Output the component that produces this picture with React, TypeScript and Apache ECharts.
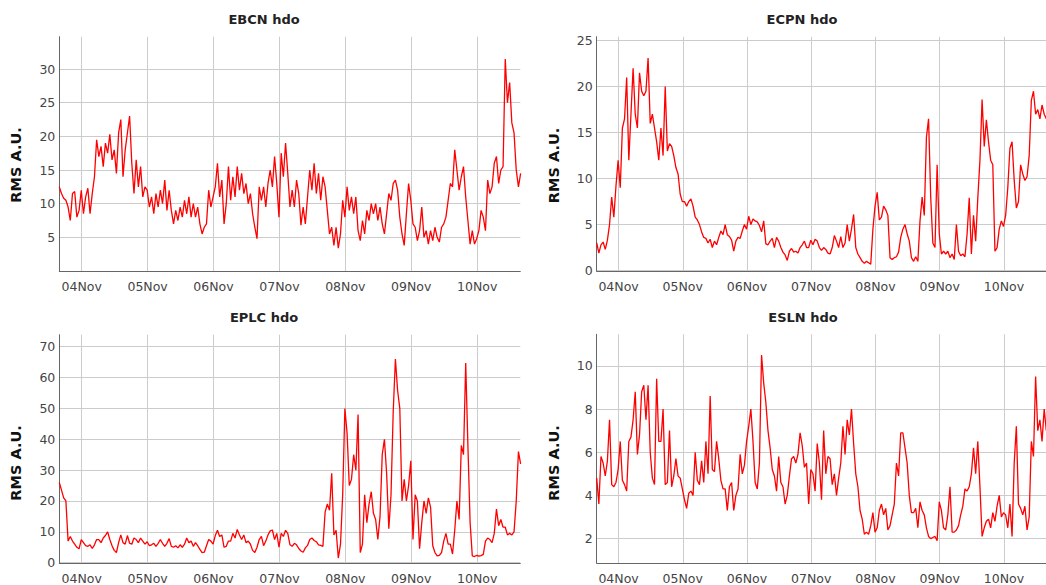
import React, { useEffect, useRef } from "react";
import * as echarts from "echarts";

// sampling: one value every 1/30 day starting 03Nov ~15:50 (day-of-month units)
const START_DAY = 3.66;
const STEP_DAY = 1 / 30;
const X_MIN = 3.66;
const X_MAX = 10.655;
const dayTicks = [4, 5, 6, 7, 8, 9, 10];

const ebcn = [
  12.5, 11.5, 10.8, 10.5, 9.5, 7.5, 11.5, 11.8, 8, 9,
  12, 8.5, 11, 12.3, 8.5, 11.5, 14, 19.5, 17, 18.5, 15.5, 19, 17.5, 20.3, 16.5, 18, 14.5, 20.5, 22.5, 14, 18, 20.5, 23, 16, 11.5, 16.5, 12.5, 15.5, 11, 12.5,
  12, 9.5, 11, 8.5, 11.5, 9.5, 12, 10, 13.5, 9, 12, 9, 7, 9, 7.5, 9.5, 8, 10.5, 8.5, 11, 8, 10, 8, 9.5, 7, 5.5, 6.5, 7, 12, 9.5,
  11, 12.5, 16, 11, 13.5, 7, 10, 15.5, 10.5, 14, 11, 15.5, 12, 14.5, 11.5, 13, 10, 11.5, 8.5, 6.5, 4.8, 12.5, 10.5, 12.5, 9.5, 13, 15, 12.5, 17, 13,
  8, 17.5, 14, 19, 14.5, 9.5, 12, 9.5, 13.5, 11.5, 6.8, 9.5, 7, 11, 15, 12, 16, 11.5, 14.5, 10.5, 14, 12.5, 9, 5.5, 6.5, 3.8, 6.5, 3.4, 5.5, 10.5,
  8, 12.5, 9, 11, 8.5, 11, 6, 4.5, 7.5, 5.5, 9, 7.5, 10, 8.5, 10, 7.5, 9.5, 7, 5.5, 8.5, 11.5, 10.5, 13, 13.5, 12, 8, 5.5, 3.8, 8.5, 13,
  10.5, 7, 6.5, 4.5, 6, 9.5, 5, 6, 4, 6, 4.5, 6.5, 5, 4.3, 6.5, 7, 8, 10.5, 13, 12.5, 18, 15, 12, 14, 15.5, 11, 7.5, 4, 6, 4,
  4.8, 6, 9, 8, 6, 13.5, 11.5, 12.5, 16, 17, 13, 15, 15.5, 31.5, 25, 28, 22, 20.5, 15, 12.5, 14.5,
];

const ecpn = [
  3, 1.9, 2.8, 3.1, 2.3, 3.3, 5, 8, 5.8, 9.2,
  12, 9, 15.5, 16.5, 21, 12, 17, 22, 17, 15.5,
  21.5, 19.5, 19, 19.5, 23.1, 16, 17, 15.5, 14, 12,
  15.5, 12.5, 20, 13, 13.8, 13.5, 12.5, 11.2, 10.5, 8.3,
  7.5, 7.5, 7, 7.5, 7.8, 7, 5.8, 5.5, 5, 4.2,
  3.6, 3.5, 3, 3.4, 2.5, 3.2, 2.8, 3.6, 4.3, 3.9,
  5, 3.9, 3.7, 3.3, 2.1, 3.2, 3.6, 3.5, 4.3, 5,
  4.5, 5.9, 5, 5.6, 5.4, 5.3, 4.9, 4.2, 5.4, 2.9,
  2.8, 3.2, 3.5, 2.5, 3.6, 3.2, 2.5, 2, 1.7, 1.1,
  2.1, 2.4, 2, 2.1, 1.9, 2.5, 2.8, 3.2, 2.5, 2.5,
  3.3, 2.8, 3.4, 3.2, 2.5, 2.2, 2.5, 2.3, 1.9, 1.8,
  2.5, 3.8, 3.2, 2.5, 3.7, 2.5, 3, 5, 3.2, 4.5,
  6.1, 2.5, 1.8, 1.4, 1, 0.8, 1, 0.85, 0.7, 4.5,
  7, 8.5, 5.5, 5.8, 7, 6.6, 6, 1.4, 1.2, 1.4,
  1.5, 2, 3.6, 4.5, 5, 4, 3.2, 1.4, 1, 1.5,
  1, 5.4, 8, 6, 14.5, 16.5, 8, 3, 2.5, 11.5,
  4, 1.8, 2.1, 1.8, 2.1, 1.4, 1.8, 1.2, 5, 2.1,
  1.6, 1.8, 1.5, 4, 7.9, 1.8, 6, 3.2, 7.9, 12,
  18.6, 13.5, 16.4, 14, 12, 11.5, 2.1, 2.5, 4.5, 5.4,
  4.8, 6, 9, 13.3, 14, 9.8, 6.8, 7.5, 11.5, 10.5,
  9.8, 10.2, 12.5, 18.5, 19.5, 17, 17.5, 16.5, 18, 17, 16.5,
];

const eplc = [
  26, 23.5, 21, 20, 7, 8.5, 7, 6, 5, 4.5,
  7.5, 6.5, 5.5, 5.3, 5.8, 4.6, 5.8, 7.5, 7.5, 6.5,
  8, 8.8, 10, 7.5, 5.5, 4, 3.3, 6.5, 9, 6.5,
  6, 8.8, 6.3, 6, 8, 7.5, 6.5, 8, 7, 6,
  6.8, 5.5, 5.8, 6.3, 5.3, 6.3, 7.5, 6.3, 5.3, 6.3,
  7.8, 5.3, 5, 5.5, 4.8, 5.8, 5, 6, 8, 6.5,
  7, 5.3, 6.5, 5.5, 4.3, 3.3, 3.4, 5.5, 7.5, 7,
  6, 8.8, 10.5, 8.5, 9, 5, 5.3, 7, 7, 9.5,
  8, 10.8, 9, 7.5, 9, 6.5, 7, 6, 4, 3.3,
  5, 7.5, 8.5, 5.5, 7, 9, 10.3, 10.6, 7.5, 9.5,
  5, 9.5, 8.5, 10.5, 9.5, 5.8, 5.3, 6.3, 5.8, 4.6,
  3.8, 3.4, 4.8, 5.6, 7.5, 8, 7.2, 6.8, 5.8, 5.6,
  5.3, 16.4, 19, 17, 29, 9, 10.5, 1.5, 6, 22,
  50, 42, 25, 27, 35, 30, 48, 3.3, 6, 22,
  13, 19, 23, 16, 14, 7.5, 15, 35, 40, 29,
  11, 22, 49, 66, 55.8, 50, 20, 27, 20, 25,
  33, 7.5, 22, 20, 4.5, 13, 20, 16, 21, 18,
  5.5, 3.3, 2.2, 2.4, 3.3, 7, 9.5, 6, 6, 2.8,
  10.5, 20, 14, 38, 35, 64.7, 38, 13, 2.2, 2,
  2.4, 2.1, 2.3, 2.7, 7, 8, 7.5, 6.5, 9.5, 17.4,
  12, 14, 11.5, 11.5, 9, 9.5, 9, 10, 20, 36, 32,
];

const esln = [
  4.8, 3.6, 5.8, 5.5, 4.9, 5.6, 7.5, 4.5, 4.4, 4.6,
  5.2, 6.5, 4.7, 4.5, 4.2, 6.5, 6.7, 7.5, 8.8, 5.9,
  6.8, 8.8, 9.1, 7.5, 9.1, 6, 4.8, 4.5, 9.4, 6.5,
  6.5, 8, 4.5, 4.6, 7, 4.4, 4.9, 5.7, 4.9, 4.8,
  4.3, 3.8, 3.4, 4.1, 4.2, 4, 6, 4.7, 4.5, 5.6,
  4.6, 6.5, 5, 8.6, 5.2, 5.1, 6.5, 5.7, 4.7, 4.3,
  4.3, 3.3, 4.4, 4.6, 3.3, 4, 4.3, 5.9, 5, 5.4,
  6.5, 7.2, 8, 6.5, 4.6, 4.3, 5.5, 10.5, 9.2, 8.3,
  7, 6.2, 5.2, 4.9, 4.2, 5.8, 4.6, 4.4, 3.6, 4,
  4.9, 5.7, 5.8, 5.5, 5.9, 6.9, 6.3, 5.3, 5.5, 3.6,
  5.2, 5, 4.2, 6.4, 5.5, 3.8, 7, 5, 5.8, 5.7,
  4.5, 5, 4, 4.8, 5.5, 7.2, 5.9, 7.5, 6.8, 8,
  6.4, 5, 4.4, 3.3, 2.9, 2.2, 2.3, 2.2, 2.6, 3.2,
  2.3, 2.5, 3.3, 3.6, 3.1, 3.4, 2.4, 2.6, 3.1, 3.6,
  5.5, 4.9, 6.9, 6.9, 6.2, 5.5, 4, 3.2, 3.2, 3.4,
  2.5, 3.7, 3.3, 3.1, 2.5, 2.1, 2, 2.05, 2.1, 1.9,
  3.7, 3.3, 2.5, 2.4, 3.1, 4.4, 2.3, 2.3, 2.4, 2.6,
  3.1, 3.5, 4.3, 4.2, 4.4, 5, 6.2, 5, 6.5, 4.4,
  2.1, 2.5, 2.8, 2.9, 2.5, 3.2, 2.8, 3.5, 4, 3,
  3.2, 3.1, 2.5, 3.6, 2.1, 5.5, 7.2, 3.6, 3.4, 3.1,
  3.5, 2.4, 3, 6.5, 5.8, 9.5, 7, 7.5, 6.5, 8, 7,
];

const ticksEbcn = [5, 10, 15, 20, 25, 30];
const ticksEcpn = [0, 5, 10, 15, 20, 25];
const ticksEplc = [0, 10, 20, 30, 40, 50, 60, 70];
const ticksEsln = [2, 4, 6, 8, 10];

const FONT = "DejaVu Sans";

const panels = [
  { title: "EBCN hdo", data: ebcn, ticks: ticksEbcn, min: 0, max: 34.8, left: 59.3, top: 36.7, titleX: 264, titleY: 19.6, nameX: 16.2, nameY: 165 },
  { title: "ECPN hdo", data: ecpn, ticks: ticksEcpn, min: -0.05, max: 25.43, left: 596.7, top: 36.7, titleX: 802, titleY: 19.6, nameX: 553.8, nameY: 165.5 },
  { title: "EPLC hdo", data: eplc, ticks: ticksEplc, min: -0.1, max: 73.9, left: 59.3, top: 334.7, titleX: 264, titleY: 317.6, nameX: 16.2, nameY: 463 },
  { title: "ESLN hdo", data: esln, ticks: ticksEsln, min: 0.87, max: 11.46, left: 596.7, top: 334.3, titleX: 803, titleY: 317, nameX: 553.8, nameY: 463 },
];

const GRID_W = 461;
const GRID_H = 234.3;

function toPoints(vals: number[]) {
  return vals.map((v, i) => [START_DAY + i * STEP_DAY, v]);
}

export default function App() {
  const ref = useRef<HTMLDivElement>(null);
  useEffect(() => {
    if (!ref.current) return;
    const chart = echarts.init(ref.current, null, { renderer: "svg" });
    const option: any = {
      animation: false,
      backgroundColor: "#ffffff",
      grid: panels.map((p) => ({ left: p.left, top: p.top, width: GRID_W, height: GRID_H, containLabel: false })),
      xAxis: panels.map((p, i) => ({
        type: "value",
        gridIndex: i,
        min: X_MIN,
        max: X_MAX,
        axisLine: { show: true, onZero: false, lineStyle: { color: "#666", width: 1 } },
        axisTick: { show: false, customValues: dayTicks },
        axisLabel: {
          customValues: dayTicks,
          formatter: (v: number) => String(Math.round(v)).padStart(2, "0") + "Nov",
          fontFamily: FONT,
          fontSize: 12.5,
          color: "#444",
          margin: 9,
        },
        splitLine: { show: true, lineStyle: { color: "#cccccc", width: 1 } },
      })),
      yAxis: panels.map((p, i) => ({
        type: "value",
        gridIndex: i,
        min: p.min,
        max: p.max,
        axisLine: { show: true, lineStyle: { color: "#666", width: 1 } },
        axisTick: { show: false, customValues: p.ticks },
        axisLabel: {
          customValues: p.ticks,
          fontFamily: FONT,
          fontSize: 12.5,
          color: "#444",
          margin: 4,
        },
        splitLine: { show: true, lineStyle: { color: "#cccccc", width: 1 } },
      })),
      series: panels.map((p, i) => ({
        type: "line",
        name: p.title,
        xAxisIndex: i,
        yAxisIndex: i,
        data: toPoints(p.data),
        showSymbol: false,
        symbol: "none",
        lineStyle: { color: "#ff0000", width: 1.3 },
        silent: true,
      })),
      graphic: [
        ...panels.map((p) => ({
          type: "text",
          x: p.titleX,
          y: p.titleY,
          style: {
            text: p.title,
            font: `bold 13px "${FONT}"`,
            fill: "#222",
            textAlign: "center",
            textVerticalAlign: "middle",
          },
        })),
        ...panels.map((p) => ({
          type: "text",
          x: p.nameX,
          y: p.nameY,
          rotation: Math.PI / 2,
          style: {
            text: "RMS A.U.",
            font: `bold 14.5px "${FONT}"`,
            fill: "#111",
            textAlign: "center",
            textVerticalAlign: "middle",
          },
        })),
      ],
    };
    chart.setOption(option);
    return () => chart.dispose();
  }, []);
  return (
    <div
      ref={ref}
      style={{ position: "fixed", left: 0, top: 0, width: 1046, height: 585, overflow: "hidden", background: "#fff" }}
    />
  );
}
